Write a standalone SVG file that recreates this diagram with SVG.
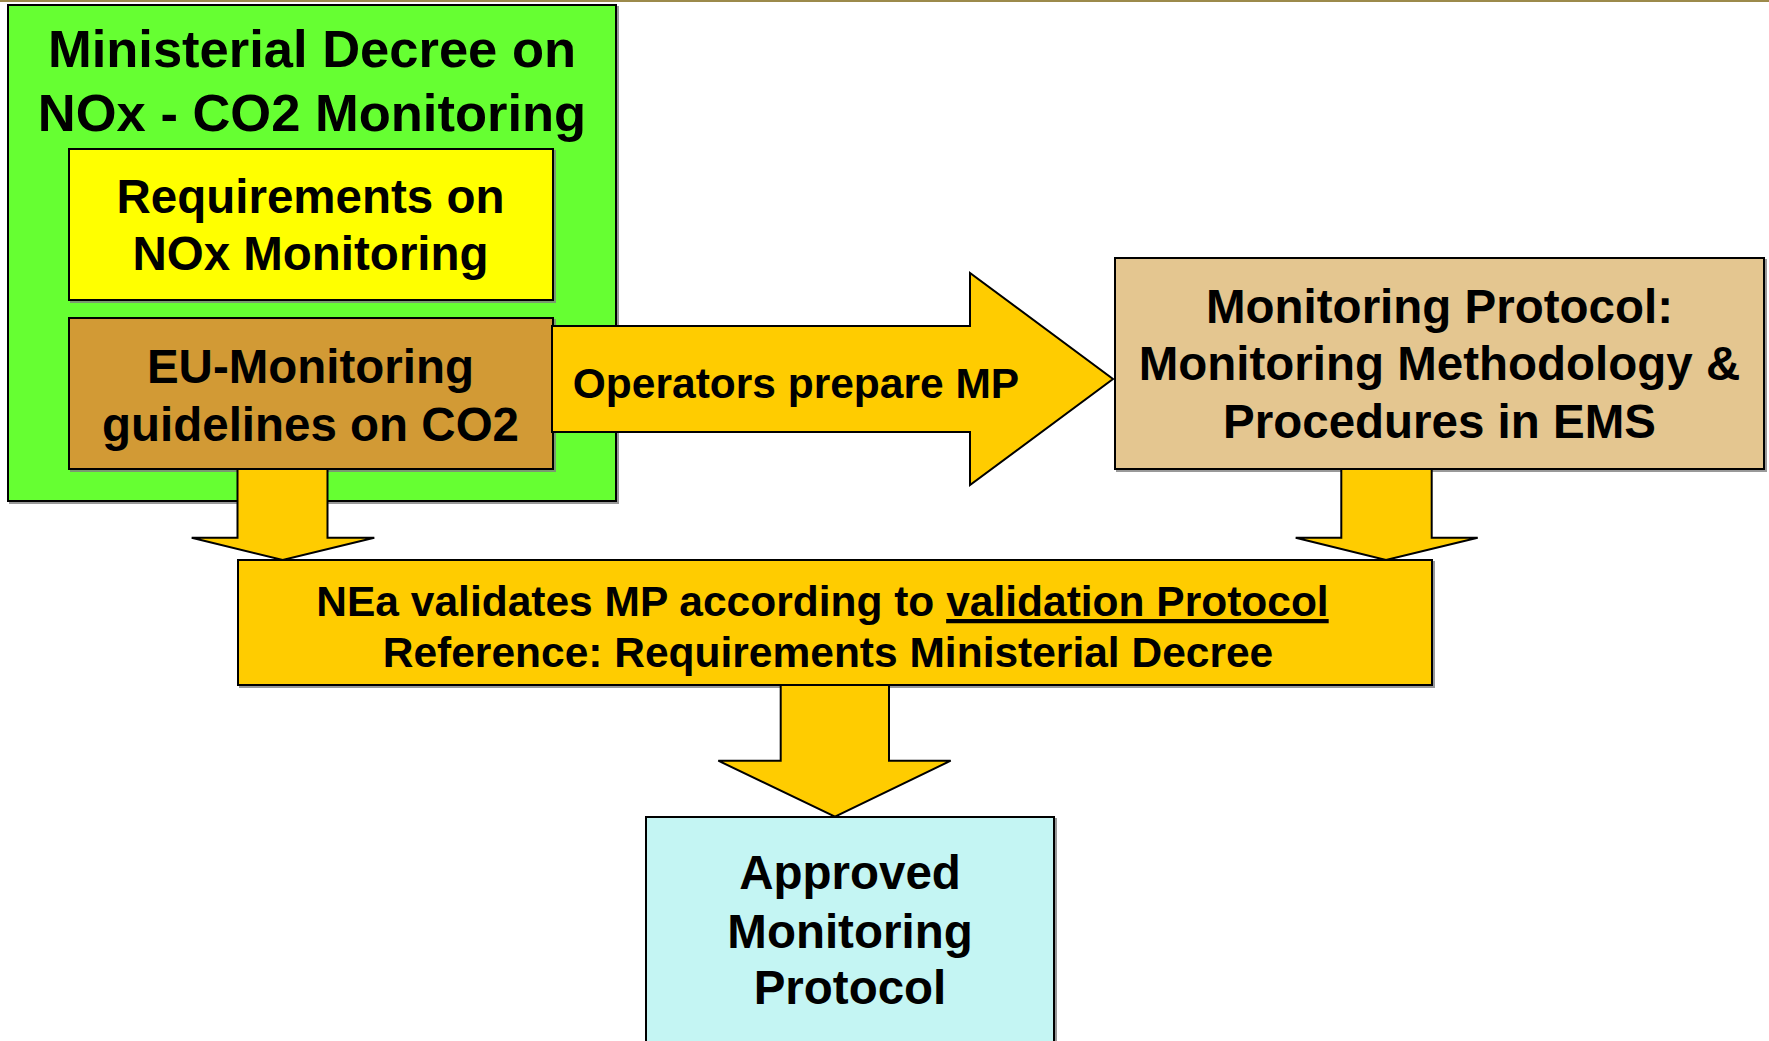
<svg xmlns="http://www.w3.org/2000/svg" width="1769" height="1041" viewBox="0 0 1769 1041">
  <style>
    .box { stroke: #000; stroke-width: 2; }
    .arrow { fill: #FFCC00; stroke: #000; stroke-width: 2; stroke-linejoin: miter; }
    text { font-family: "Liberation Sans", Arial, sans-serif; font-weight: bold; fill: #000; text-anchor: middle; }
    .t52 { font-size: 52.5px; }
    .t47 { font-size: 47.5px; }
    .t42 { font-size: 42.5px; }
  </style>
  <defs>
    <filter id="sh" x="-5%" y="-5%" width="110%" height="110%">
      <feDropShadow dx="2" dy="2" stdDeviation="0.6" flood-color="#808080" flood-opacity="0.8"/>
    </filter>
  </defs>
  <rect x="0" y="0" width="1769" height="1041" fill="#FFFFFF"/>
  <rect x="0" y="0" width="1769" height="2" fill="#9C8A4B"/>

  <g id="ministerial-decree">
    <rect class="box" x="8" y="5" width="608" height="496" fill="#66FF33" filter="url(#sh)"/>
    <text class="t52" x="312" y="67">Ministerial Decree on</text>
    <text class="t52" x="312" y="131">NOx - CO2 Monitoring</text>
  </g>

  <g id="nox-requirements">
    <rect class="box" x="69" y="149" width="484" height="151" fill="#FFFF00" filter="url(#sh)"/>
    <text class="t47" x="310.5" y="213">Requirements on</text>
    <text class="t47" x="310.5" y="270">NOx Monitoring</text>
  </g>

  <g id="eu-guidelines">
    <rect class="box" x="69" y="318" width="484" height="151" fill="#D29A35" filter="url(#sh)"/>
    <text class="t47" x="310.5" y="383">EU-Monitoring</text>
    <text class="t47" x="310.5" y="440.5">guidelines on CO2</text>
  </g>

  <g id="monitoring-protocol">
    <rect class="box" x="1115" y="258" width="649" height="211" fill="#E4C690" filter="url(#sh)"/>
    <text class="t47" x="1439.5" y="323">Monitoring Protocol:</text>
    <text class="t47" x="1439.5" y="380">Monitoring Methodology &amp;</text>
    <text class="t47" x="1439.5" y="437.5">Procedures in EMS</text>
  </g>

  <g id="nea-validation">
    <rect class="box" x="238" y="560" width="1194" height="125" fill="#FFCC00" filter="url(#sh)"/>
    <text class="t42" x="822.5" y="616">NEa validates MP according to <tspan text-decoration="underline">validation Protocol</tspan></text>
    <text class="t42" x="828" y="666.5">Reference: Requirements Ministerial Decree</text>
  </g>

  <g id="approved-protocol">
    <rect class="box" x="646" y="817" width="408" height="240" fill="#C4F5F3" filter="url(#sh)"/>
    <text class="t47" x="850" y="889">Approved</text>
    <text class="t47" x="850" y="947.5">Monitoring</text>
    <text class="t47" x="850" y="1004">Protocol</text>
  </g>

  <g id="connectors">
    <g id="operators-prepare">
      <polygon class="arrow" points="552,326 970,326 970,273 1113,379 970,485 970,432 552,432"/>
      <text class="t42" x="796" y="398">Operators prepare MP</text>
    </g>
    <polygon class="arrow" points="237.5,469 327.5,469 327.5,537.7 374.3,537.7 282.7,560 191.7,537.7 237.5,537.7"/>
    <polygon class="arrow" points="1341.3,469 1431.7,469 1431.7,537.7 1477.7,537.7 1386,560 1295.7,537.7 1341.3,537.7"/>
    <polygon class="arrow" points="780.7,685 889,685 889,760.7 950.7,760.7 835,816.7 718.3,760.7 780.7,760.7"/>
  </g>
</svg>
